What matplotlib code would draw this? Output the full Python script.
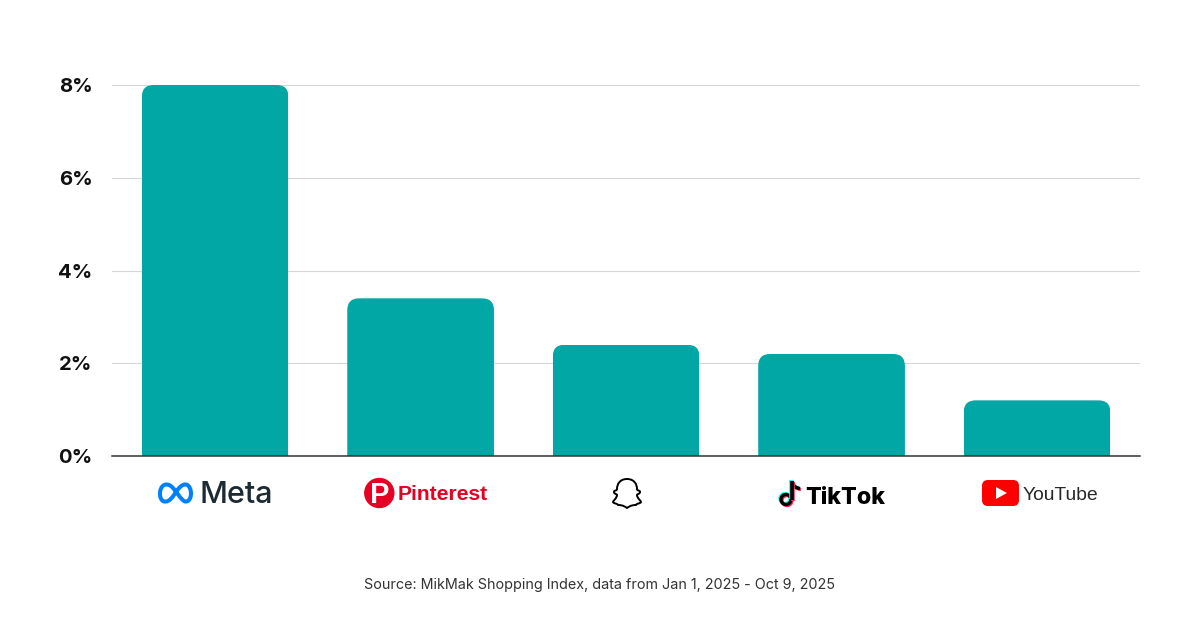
import matplotlib
matplotlib.use('Agg')
import matplotlib.pyplot as plt
from matplotlib.patches import FancyBboxPatch, Circle, PathPatch, Polygon
from matplotlib.path import Path
from matplotlib.transforms import IdentityTransform

# -----------------------------
# Data
# -----------------------------
platforms = ['Meta', 'Pinterest', 'Snapchat', 'TikTok', 'YouTube']
values = [8.0, 3.4, 2.4, 2.2, 1.2]
y_ticks = [0, 2, 4, 6, 8]
y_tick_labels = ['0%', '2%', '4%', '6%', '8%']
source_text = 'Source: MikMak Shopping Index, data from Jan 1, 2025 - Oct 9, 2025'

BAR_COLOR = '#00A7A5'
W, H = 1200, 628

plt.rcParams['font.family'] = ['Inter', 'DejaVu Sans']

fig = plt.figure(figsize=(W / 100, H / 100), dpi=100, facecolor='white')
ax = fig.add_axes([112.4 / W, 1 - 456 / H, 1027.4 / W, (456 - 85) / H])

# -----------------------------
# Bars and axes
# -----------------------------
x_pos = list(range(len(platforms)))
bars = ax.bar(x_pos, values, width=0.714, color=BAR_COLOR, zorder=3)
ax.set_xlim(-0.5, 4.5)
ax.set_ylim(0, 8)
ax.set_yticks(y_ticks)
ax.set_yticklabels(y_tick_labels, fontsize=14.6, fontweight='bold', color='#111111')
ax.set_xticks([])
ax.tick_params(axis='y', length=0, pad=14.4)
ax.grid(axis='y', color='#d6d6d6', linewidth=0.8, zorder=0)
ax.set_axisbelow(True)
for side in ['top', 'right', 'left']:
    ax.spines[side].set_visible(False)
ax.spines['bottom'].set_color('#333333')
ax.spines['bottom'].set_linewidth(1.1)
ax.spines['bottom'].set_zorder(5)

# round the top corners by clipping each bar, 12 px radius
fig.canvas.draw()
for b in bars:
    box = b.get_window_extent()
    clip = FancyBboxPatch((box.x0 + 12, box.y0 - 30), box.width - 24, box.height + 30 - 12,
                          boxstyle='round,pad=12,rounding_size=12', transform=IdentityTransform())
    b.set_clip_path(clip)

# -----------------------------
# Logos, overlay in pixel coordinates
# -----------------------------
lg = fig.add_axes([0, 0, 1, 1], facecolor='none')
lg.set_xlim(0, W)
lg.set_ylim(H, 0)
lg.axis('off')

# Meta
meta_verts = [(166, 501.5), (157, 503), (158, 481), (169, 485), (175, 487), (181, 502), (186, 501.5),
              (194, 501), (192, 481), (183, 485), (176, 488), (173, 501), (166, 501.5)]
meta_codes = [Path.MOVETO] + [Path.CURVE4] * 12
lg.add_patch(PathPatch(Path(meta_verts, meta_codes), fill=False, edgecolor='#0081FB', linewidth=2.9))
lg.text(199, 503.2, 'Meta', fontsize=22, fontweight='medium', color='#1C2B33', ha='left', va='baseline')

# Pinterest
lg.add_patch(Circle((379.3, 493), 14.5, color='#E60023'))
lg.text(379.5, 503, 'P', fontsize=21, fontweight='bold', color='white', ha='center', va='baseline',
        family='Liberation Sans')
lg.text(398, 500.5, 'Pinterest', fontsize=15.2, fontweight='bold', color='#E60023', ha='left', va='baseline',
        family='Liberation Sans')

# Snapchat ghost
ghost_verts = [(627, 479), (620, 479), (617, 484), (617, 489), (617, 491), (614, 490), (614, 492),
               (614, 494), (617, 494), (617, 495), (617, 498), (613, 501), (613, 502), (614, 504),
               (617, 503), (618, 505), (620, 505), (623, 505), (627, 508), (631, 505), (634, 505),
               (636, 505), (637, 503), (640, 504), (641, 502), (641, 501), (637, 498), (637, 495),
               (637, 494), (640, 494), (640, 492), (640, 490), (637, 491), (637, 489), (637, 484),
               (634, 479), (627, 479)]
ghost_codes = [Path.MOVETO] + [Path.CURVE4] * 36
lg.add_patch(PathPatch(Path(ghost_verts, ghost_codes), facecolor='white', edgecolor='black', linewidth=1.4))

# TikTok note, drawn three times for the offset colours
flag_codes = [Path.MOVETO, Path.CURVE3, Path.CURVE3]
for dx, dy, col in [(-1, -1, '#25F4EE'), (1, 1, '#FE2C55'), (0, 0, '#000000')]:
    lg.add_patch(Circle((786 + dx, 499.5 + dy), 5, fill=False, edgecolor=col, linewidth=2.4))
    lg.plot([792 + dx, 792 + dx], [481 + dy, 499.5 + dy], color=col, linewidth=2.6, solid_capstyle='butt')
    flag = Path([(792 + dx, 481 + dy), (793 + dx, 488 + dy), (800 + dx, 488.5 + dy)], flag_codes)
    lg.add_patch(PathPatch(flag, fill=False, edgecolor=col, linewidth=2.4))
lg.text(805.5, 503.5, 'TikTok', fontsize=16.8, fontweight='extra bold', color='black', ha='left', va='baseline')

# YouTube
lg.add_patch(FancyBboxPatch((988, 486), 25, 14, boxstyle='round,pad=6,rounding_size=6', facecolor='#FF0000', edgecolor='none'))
lg.add_patch(Polygon([(996, 487), (996, 499), (1007, 493)], closed=True, facecolor='white', edgecolor='none'))
lg.text(1023, 500, 'YouTube', fontsize=13.9, color='#282828', ha='left', va='baseline',
        family='Liberation Sans')

# -----------------------------
# Source note
# -----------------------------
lg.text(600, 584.5, source_text, fontsize=10.35, color='#333333', ha='center', va='center')

fig.savefig('out.png', dpi=100, facecolor='white')
